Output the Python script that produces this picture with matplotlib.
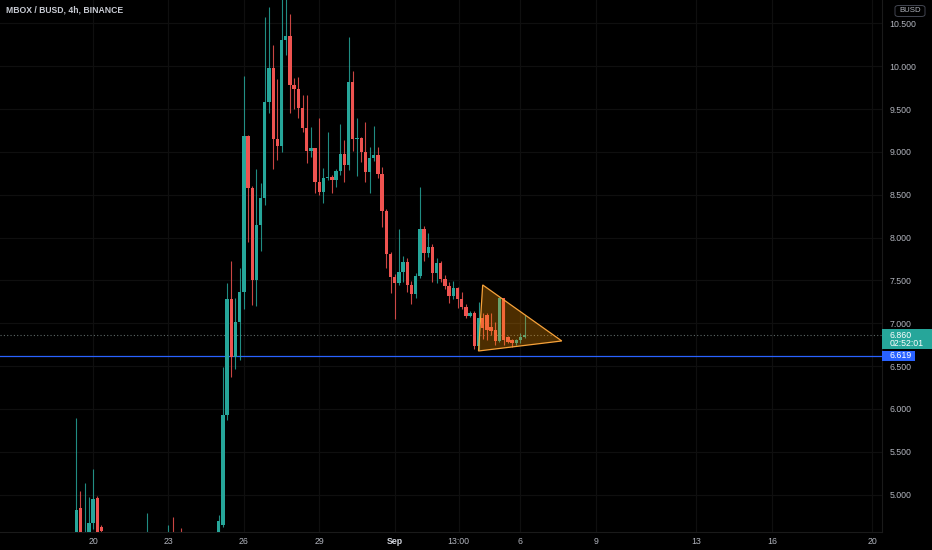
import matplotlib.pyplot as plt
import matplotlib.transforms as mtransforms
from matplotlib.patches import Polygon, Rectangle, FancyBboxPatch
import numpy as np
import pandas as pd

plt.rcParams['font.family'] = ['Liberation Sans', 'DejaVu Sans']

# MBOX/BUSD 4h candles
t0 = pd.Timestamp('2021-08-20 00:00')
bar = pd.Timedelta(hours=4)

early_time = ['2021-08-19 08:00', '2021-08-19 12:00', '2021-08-19 16:00', '2021-08-19 20:00',
              '2021-08-20 00:00', '2021-08-20 04:00', '2021-08-20 08:00', '2021-08-22 04:00',
              '2021-08-23 00:00', '2021-08-23 04:00', '2021-08-23 12:00']
early_open = [4.40, 4.845, 4.45, 4.52, 4.67, 4.962, 4.62, 4.40, 4.40, 4.45, 4.42]
early_high = [5.895, 5.043, 5.137, 4.973, 5.30, 4.98, 4.65, 4.787, 4.647, 4.74, 4.61]
early_low = [4.35, 4.40, 4.40, 4.45, 4.60, 4.50, 4.50, 4.35, 4.35, 4.35, 4.35]
early_close = [4.821, 4.45, 4.52, 4.67, 4.95, 4.55, 4.58, 4.45, 4.45, 4.40, 4.40]

run_start = '2021-08-25 00:00'
run_open = [4.55, 4.651, 5.934, 7.281, 6.611, 7.010, 7.368, 9.181, 8.583, 7.500,
            8.144, 8.463, 9.579, 9.977, 9.149, 9.070, 10.304, 10.356, 9.779, 9.731,
            9.510, 9.280, 9.015, 9.043, 8.653, 8.537, 8.693, 8.712, 8.673, 8.778,
            8.977, 8.848, 9.821, 9.148, 9.160, 9.004, 8.770, 8.934, 8.965, 8.743,
            8.311, 7.809, 7.538, 7.474, 7.603, 7.720, 7.448, 7.343, 7.553, 8.098,
            7.825, 7.895, 7.584, 7.708, 7.514, 7.436, 7.319, 7.409, 7.281, 7.194,
            7.086, 7.124, 6.736, 7.059, 7.094, 6.953, 6.922, 6.797, 7.292, 6.837,
            6.806, 6.767, 6.806, 6.844]
run_high = [4.763, 6.492, 7.467, 7.728, 7.296, 7.646, 9.890, 9.200, 8.600, 8.802,
            8.643, 10.576, 10.687, 10.249, 9.852, 10.800, 10.850, 10.614, 9.858, 9.879,
            9.665, 9.665, 9.292, 9.050, 9.397, 8.813, 9.237, 8.730, 8.800, 9.323,
            9.140, 10.339, 9.946, 9.397, 9.179, 9.354, 9.058, 9.304, 9.058, 8.829,
            8.330, 7.830, 7.580, 8.098, 7.786, 7.759, 7.490, 7.591, 8.588, 8.136,
            8.058, 7.920, 7.759, 7.730, 7.564, 7.486, 7.498, 7.420, 7.369, 7.230,
            7.140, 7.140, 7.253, 7.117, 7.117, 7.117, 7.019, 7.311, 7.300, 6.850,
            6.820, 6.820, 6.884, 7.097]
run_low = [4.50, 4.62, 5.87, 6.374, 6.472, 6.572, 7.169, 7.953, 7.208, 7.197,
           7.846, 8.384, 9.460, 8.802, 8.902, 9.000, 10.137, 9.460, 9.502, 9.397,
           9.233, 8.872, 8.942, 8.521, 8.498, 8.408, 8.670, 8.525, 8.595, 8.732,
           8.653, 8.790, 9.015, 8.720, 8.887, 8.653, 8.521, 8.900, 8.700, 8.125,
           7.643, 7.351, 7.047, 7.450, 7.486, 7.369, 7.226, 7.292, 7.530, 7.731,
           7.771, 7.486, 7.474, 7.480, 7.400, 7.241, 7.280, 7.176, 7.170, 7.059,
           7.070, 6.697, 6.690, 6.814, 6.806, 6.864, 6.747, 6.780, 6.747, 6.770,
           6.724, 6.750, 6.770, 6.830]
run_close = [4.693, 5.934, 7.281, 6.611, 7.010, 7.368, 9.181, 8.583, 7.500, 8.144,
             8.463, 9.579, 9.977, 9.149, 9.070, 10.304, 10.356, 9.779, 9.731, 9.510,
             9.280, 9.015, 9.043, 8.653, 8.537, 8.693, 8.712, 8.673, 8.778, 8.977,
             8.848, 9.821, 9.148, 9.160, 9.004, 8.770, 8.934, 8.965, 8.743, 8.311,
             7.809, 7.538, 7.474, 7.603, 7.720, 7.448, 7.343, 7.553, 8.098, 7.825,
             7.895, 7.584, 7.708, 7.514, 7.436, 7.319, 7.409, 7.281, 7.194, 7.086,
             7.124, 6.736, 7.059, 6.942, 6.922, 6.910, 6.797, 7.292, 6.806, 6.786,
             6.767, 6.806, 6.844, 6.860]

last_price = 6.860
countdown = '02:52:01'
support = 6.619

# triangle drawn on the consolidation
tri_time = ['2021-09-04 12:00', '2021-09-04 08:00', '2021-09-07 15:30']
tri_price = [7.448, 6.677, 6.794]

tick_time = ['2021-08-20', '2021-08-23', '2021-08-26', '2021-08-29', '2021-09-01',
             '2021-09-03 13:00', '2021-09-06', '2021-09-09', '2021-09-13', '2021-09-16',
             '2021-09-20']
tick_label = ['20', '23', '26', '29', 'Sep', '13:00', '6', '9', '13', '16', '20']
price_ticks = np.arange(5.0, 10.51, 0.5)

UP, DOWN = '#26a69a', '#ef5350'
BG = '#000000'
GRID = '#0f0f0f'
TXT = '#b2b5be'


def to_bar(t):
    return ((pd.to_datetime(t) - t0) / bar)


run_time = pd.date_range(run_start, periods=len(run_open), freq='4h')
times = pd.to_datetime(early_time).append(run_time)
x = np.asarray(to_bar(times), dtype=float)
o = np.array(early_open + run_open)
h = np.array(early_high + run_high)
l = np.array(early_low + run_low)
c = np.array(early_close + run_close)

fig = plt.figure(figsize=(9.32, 5.5), dpi=100, facecolor=BG)
ax = fig.add_axes([0, 18 / 550, 882 / 932, 532 / 550], facecolor=BG)

ax.set_xlim(-22.2, 188.3)
ax.set_ylim(4.564, 10.774)

# grid
for t in tick_time:
    ax.axvline(float(to_bar(t)), color=GRID, lw=0.9, zorder=0)
for p in price_ticks:
    ax.axhline(p, color=GRID, lw=0.9, zorder=0)

# candles
cols = np.where(c >= o, UP, DOWN)
ax.vlines(x, l, h, colors=cols, lw=0.8, alpha=0.85, zorder=2)
body_lo = np.minimum(o, c)
body_h = np.maximum(np.abs(c - o), 0.012)
ax.bar(x, body_h, bottom=body_lo, width=0.8, color=cols, edgecolor='none', zorder=3)

# triangle
tri_xy = np.column_stack([np.asarray(to_bar(tri_time), dtype=float), tri_price])
ax.add_patch(Polygon(tri_xy, closed=True, facecolor='#ff9800', alpha=0.3,
                     edgecolor='none', zorder=4))
ax.add_patch(Polygon(tri_xy, closed=True, facecolor='none', edgecolor='#f7a23a',
                     lw=0.9, zorder=5))

# price lines
ax.axhline(last_price, color='#5f6b6a', lw=0.8, ls=(0, (1, 2)), zorder=1)
ax.axhline(support, color='#2962ff', lw=0.9, zorder=1)

# axes styling
for side in ['left', 'top']:
    ax.spines[side].set_visible(False)
ax.spines['right'].set_color('#1a1a1a')
ax.spines['bottom'].set_color('#1a1a1a')
ax.yaxis.tick_right()
ax.set_yticks(price_ticks)
ax.set_yticklabels([f'{p:.3f}' for p in price_ticks])
ax.set_xticks([float(to_bar(t)) for t in tick_time])
ax.set_xticklabels(tick_label)
ax.tick_params(axis='both', length=0, colors=TXT, labelsize=6.3)
ax.tick_params(axis='y', pad=5.2)
ax.tick_params(axis='x', pad=3.5)
for lab in ax.get_xticklabels():
    if lab.get_text() == 'Sep':
        lab.set_fontweight('bold')
        lab.set_color('#d1d4dc')

# labels on the price scale
fig.canvas.draw()
ppu = ax.transData.transform((0, 1))[1] - ax.transData.transform((0, 0))[1]
bt = mtransforms.blended_transform_factory(fig.transFigure, ax.transData)
x0 = 882.3 / 932
ax.add_patch(Rectangle((x0, last_price - 13.2 / ppu), 1 - x0, 19.4 / ppu, transform=bt,
                       facecolor='#26a69a', edgecolor='none', clip_on=False, zorder=10))
ax.text(889.3 / 932, last_price, f'{last_price:.3f}', transform=bt, color='white',
        fontsize=6.3, va='center', ha='left', zorder=11)
ax.text(889.3 / 932, last_price - 8.5 / ppu, countdown, transform=bt, color='white',
        fontsize=6.3, va='center', ha='left', zorder=11)
ax.add_patch(Rectangle((x0, support - 5 / ppu), 915 / 932 - x0, 10 / ppu, transform=bt,
                       facecolor='#2962ff', edgecolor='none', clip_on=False, zorder=10))
ax.text(889.3 / 932, support, f'{support:.3f}', transform=bt, color='white',
        fontsize=6.3, va='center', ha='left', zorder=11)

# header
fig.text(6 / 932, 1 - 10 / 550, 'MBOX / BUSD, 4h, BINANCE', color='#c9ccd4',
         fontsize=6.2, fontweight='bold', va='center', ha='left')
fig.patches.append(FancyBboxPatch((895 / 932, 1 - 16.5 / 550), 30 / 932, 11 / 550,
                                  boxstyle='round,pad=0,rounding_size=0.004',
                                  transform=fig.transFigure, facecolor=BG,
                                  edgecolor='#434651', lw=0.7))
fig.text(910 / 932, 1 - 11 / 550, 'BUSD', color=TXT, fontsize=5.6,
         va='center', ha='center')

fig.savefig('out.png', dpi=100, facecolor=BG)
